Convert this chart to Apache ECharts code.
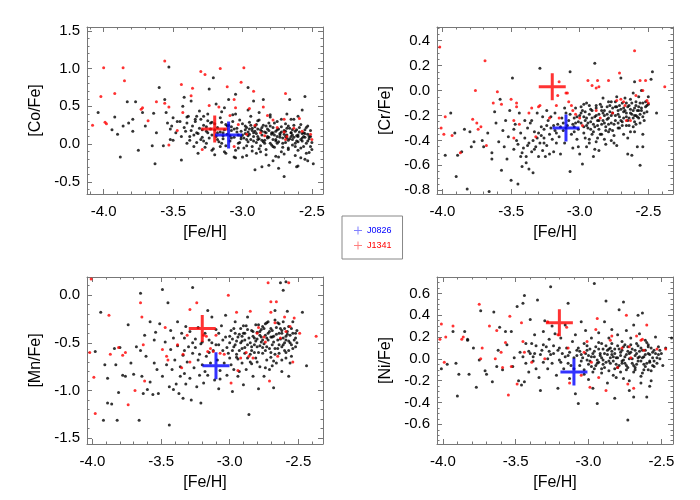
<!DOCTYPE html>
<html>
<head>
<meta charset="utf-8">
<script src="https://cdn.jsdelivr.net/npm/echarts@6/dist/echarts.min.js"></script>
<style>html,body{margin:0;padding:0;background:#fff}#c{width:700px;height:500px}</style>
</head>
<body>
<div id="c"></div>
<script>
// ---- data: [Fe/H], [X/Fe] ----
const coBlack = [[-4.04,0.42],[-3.92,0.36],[-3.90,0.13],[-3.88,-0.17],[-3.94,0.19],[-3.86,0.24],[-3.83,0.56],[-3.82,0.28],[-3.79,0.17],[-3.79,0.33],[-3.77,0.56],[-3.75,-0.08],[-3.72,0.42],[-3.70,0.24],[-3.65,-0.02],[-3.64,0.41],[-3.63,-0.26],[-3.62,0.15],[-3.60,0.75],[-3.57,-0.02],[-3.56,0.59],[-3.55,0.42],[-3.54,0.28],[-3.53,1.02],[-3.52,0.06],[-3.51,0.24],[-3.50,0.35],[-3.48,0.15],[-3.45,0.30],[-3.44,-0.21],[-3.43,0.50],[-3.42,0.62],[-3.41,0.17],[-3.40,0.01],[-3.39,0.37],[-3.38,0.10],[-3.37,0.57],[-3.36,0.24],[-3.35,-0.03],[-3.34,0.33],[-3.33,0.15],[-3.32,-0.12],[-3.31,0.44],[-3.30,0.06],[-3.29,0.19],[-3.28,0.37],[-3.26,0.01],[-3.25,0.15],[-3.24,0.73],[-3.23,0.28],[-3.22,-0.08],[-3.21,0.88],[-3.20,0.19],[-3.19,0.53],[-3.18,0.06],[-3.16,0.35],[-3.16,-0.03],[-3.14,0.15],[-3.13,0.48],[-3.12,-0.12],[-3.11,0.24],[-3.10,0.59],[-3.08,0.08],[-3.07,0.39],[-3.06,-0.17],[-3.05,0.66],[-3.04,0.16],[-3.03,0.01],[-3.02,0.32],[-3.01,0.10],[-3.00,-0.17],[-2.98,0.24],[-2.97,0.06],[-2.96,0.75],[-2.95,0.20],[-2.94,0.37],[-2.93,-0.03],[-2.92,0.15],[-2.92,0.57],[-2.91,-0.34],[-2.90,0.26],[-2.89,0.06],[-2.88,0.32],[-2.87,-0.10],[-2.86,0.17],[-2.85,0.59],[-2.84,0.01],[-2.83,0.24],[-2.82,0.10],[-2.81,-0.28],[-2.80,0.39],[-2.79,0.15],[-2.78,-0.03],[-2.77,0.28],[-2.76,0.06],[-2.75,0.19],[-2.74,-0.17],[-2.73,0.12],[-2.72,0.33],[-2.71,0.01],[-2.70,-0.43],[-2.69,0.17],[-2.68,0.08],[-2.67,0.24],[-2.67,-0.07],[-2.66,0.59],[-2.65,0.15],[-2.64,0.06],[-2.63,0.33],[-2.62,-0.03],[-2.61,0.19],[-2.60,0.10],[-2.60,-0.29],[-2.58,0.26],[-2.57,0.04],[-2.56,0.15],[-2.55,0.63],[-2.54,-0.12],[-2.53,0.24],[-2.52,0.10],[-2.51,-0.03],[-2.49,-0.26],
[-3.42,0.22],[-3.40,0.28],[-3.38,0.05],[-3.37,0.18],[-3.35,0.12],[-3.34,0.30],[-3.33,0.02],[-3.31,0.21],[-3.30,0.33],[-3.29,0.09],[-3.28,0.25],[-3.27,-0.04],[-3.26,0.17],[-3.25,0.31],[-3.24,0.08],[-3.23,0.20],[-3.22,0.12],[-3.21,-0.06],[-3.20,0.27],[-3.19,0.10],[-3.18,0.22],[-3.17,0.03],[-3.16,0.16],[-3.15,0.29],[-3.14,0.07],[-3.13,0.19],[-3.12,-0.02],[-3.11,0.13],[-3.10,0.25],[-3.09,0.04],[-3.08,0.18],[-3.07,0.30],[-3.06,0.09],[-3.05,-0.08],[-3.04,0.21],[-3.03,0.12],[-3.02,0.02],[-3.01,0.17],[-3.00,0.27],[-2.99,0.08],[-2.99,-0.05],[-2.98,0.14],[-2.97,0.22],[-2.96,0.03],[-2.96,0.11],[-2.95,0.29],[-2.94,0.06],[-2.93,0.18],[-2.93,-0.09],[-2.92,0.10],[-2.91,0.23],[-2.90,0.02],[-2.90,0.14],[-2.89,0.31],[-2.88,0.07],[-2.87,0.19],[-2.87,-0.02],[-2.86,0.12],[-2.85,0.25],[-2.84,0.05],[-2.84,0.16],[-2.83,-0.07],[-2.82,0.20],[-2.81,0.09],[-2.81,0.28],[-2.80,0.01],[-2.79,0.13],[-2.78,0.22],[-2.78,0.06],[-2.77,-0.04],[-2.76,0.17],[-2.75,0.10],[-2.75,0.30],[-2.74,0.03],[-2.73,0.14],[-2.72,0.23],[-2.72,-0.10],[-2.71,0.08],[-2.70,0.18],[-2.69,0.02],[-2.69,0.27],[-2.68,0.12],[-2.67,-0.05],[-2.66,0.21],[-2.66,0.07],[-2.65,0.15],[-2.64,-0.01],[-2.63,0.25],[-2.63,0.09],[-2.62,0.17],[-2.61,0.04],[-2.60,-0.08],[-2.60,0.12],[-2.59,0.22],[-2.58,0.06],[-2.57,0.14],[-2.56,-0.03],[-2.55,0.19],[-2.55,0.09],[-2.54,0.01],[-2.53,0.13],[-2.52,-0.11],[-2.52,0.07],[-2.51,0.18],[-2.50,0.02],[-2.58,-0.18],[-2.62,-0.15],[-2.55,-0.20],[-2.70,-0.13],[-2.76,-0.16],[-2.83,-0.14],[-2.90,-0.12],[-2.97,-0.15],[-3.05,-0.18],[-3.13,-0.10],[-3.20,-0.14],[-2.65,0.33],[-2.60,0.37],[-2.57,0.45],[-2.68,0.40],[-2.80,0.36],[-2.88,0.42],[-2.96,0.45],[-3.05,0.40],[-3.15,0.43],[-3.25,0.40],[-3.33,0.37],[-3.40,0.36],[-3.47,0.30],[-3.44,0.10],[-3.50,0.05],[-3.52,0.20],[-2.53,-0.22],[-2.61,-0.30],[-2.74,-0.32],[-2.86,-0.30],[-2.78,-0.22],[-2.66,-0.24],
[-3.32,0.14],[-3.28,0.04],[-3.26,0.23],[-3.22,0.29],[-3.18,0.15],[-3.15,0.01],[-3.12,0.26],[-3.09,0.11],[-3.06,0.20],[-3.03,-0.05],[-3.01,0.07],[-2.98,0.19],[-2.97,-0.02],[-2.95,0.13],[-2.94,0.25],[-2.92,0.04],[-2.91,0.17],[-2.89,0.10],[-2.88,-0.06],[-2.86,0.22],[-2.85,0.03],[-2.83,0.15],[-2.82,0.08],[-2.80,0.24],[-2.79,-0.01],[-2.77,0.12],[-2.76,0.04],[-2.74,0.20],[-2.73,0.09],[-2.71,-0.04],[-2.70,0.13],[-2.68,0.21],[-2.67,0.05],[-2.65,0.10],[-2.64,0.19],[-2.62,0.01],[-2.61,0.11],[-2.59,0.16],[-2.58,-0.05],[-2.57,0.08],[-2.55,0.14],[-2.54,0.22],[-2.53,0.04],[-2.51,0.10],[-2.50,-0.07],[-2.86,0.05],[-2.78,0.15],[-2.72,0.16],[-2.64,0.12],[-2.93,0.21],[-3.00,0.12],[-3.08,0.23],[-3.14,0.11],[-2.69,0.10],[-2.75,0.01],[-2.81,0.18],[-2.89,0.20],[-2.96,0.16],[-2.60,0.03],[-2.56,0.10]];
const coRed = [[-4.08,0.25],[-4.00,1.01],[-4.02,0.63],[-3.99,0.29],[-3.98,0.27],[-3.92,0.67],[-3.86,1.01],[-3.85,0.84],[-3.73,0.46],[-3.72,0.48],[-3.68,0.31],[-3.62,0.56],[-3.56,1.10],[-3.53,0.49],[-3.53,-0.01],[-3.56,0.54],[-3.47,0.18],[-3.44,0.79],[-3.43,0.42],[-3.36,0.74],[-3.37,0.64],[-3.30,0.96],[-3.27,0.92],[-3.29,-0.07],[-3.24,0.51],[-3.16,1.00],[-3.17,0.49],[-3.11,0.76],[-3.09,0.38],[-3.06,-0.03],[-3.05,0.48],[-3.06,0.59],[-3.01,0.82],[-2.99,1.01],[-3.03,0.26],[-2.92,0.70],[-2.95,0.47],[-2.91,0.25],[-2.85,0.49],[-2.87,0.15],[-2.82,0.38],[-2.78,0.32],[-2.75,0.22],[-2.70,0.33],[-2.69,0.67],[-2.70,0.16],[-2.68,0.10],[-2.63,0.21],[-2.59,0.34],[-2.57,0.17],[-2.51,0.13],[-2.50,0.06],[-2.69,0.06],[-2.84,0.11],[-2.97,0.13]];

const crBlack = [[-3.98,-0.52],[-3.94,-0.18],[-3.91,-0.34],[-3.90,-0.69],[-3.89,-0.52],[-3.86,-0.49],[-3.84,-0.31],[-3.82,-0.79],[-3.80,-0.33],[-3.79,-0.45],[-3.77,-0.41],[-3.71,-0.40],[-3.70,-0.45],[-3.67,-0.34],[-3.66,-0.81],[-3.64,-0.50],[-3.64,-0.55],[-3.62,-0.17],[-3.61,-0.26],[-3.59,-0.41],[-3.58,-0.07],[-3.57,-0.64],[-3.56,-0.32],[-3.55,-0.45],[-3.54,-0.24],[-3.53,-0.55],[-3.52,-0.37],[-3.51,-0.16],[-3.50,-0.72],[-3.49,0.10],[-3.48,-0.31],[-3.48,-0.47],[-3.47,-0.27],[-3.46,-0.40],[-3.45,-0.75],[-3.44,-0.18],[-3.43,-0.53],[-3.43,-0.34],[-3.42,-0.61],[-3.41,-0.46],[-3.40,-0.24],[-3.40,-0.38],[-3.39,-0.53],[-3.38,-0.30],[-3.37,-0.42],[-3.37,-0.63],[-3.35,-0.24],[-3.35,-0.49],[-3.34,-0.40],[-3.34,-0.66],[-3.33,-0.33],[-3.32,-0.45],[-3.31,-0.18],[-3.30,-0.53],[-3.30,-0.34],[-3.29,-0.42],[-3.29,0.18],[-3.28,-0.29],[-3.27,-0.48],[-3.27,-0.21],[-3.26,-0.38],[-3.26,-0.31],[-3.25,-0.53],[-3.24,-0.16],[-3.24,-0.44],[-3.23,-0.24],[-3.22,-0.35],[-3.22,-0.51],[-3.21,-0.30],[-3.21,-0.21],[-3.20,-0.39],[-3.19,-0.49],[-3.18,-0.32],[-3.18,-0.18],[-3.17,-0.42],[-3.16,-0.27],[-3.15,-0.37],[-3.14,-0.51],[-3.13,-0.22],[-3.12,-0.32],[-3.11,-0.42],[-3.10,-0.18],[-3.09,-0.28],[-3.07,-0.65],[-3.07,0.15],[-3.06,-0.35],[-3.05,-0.46],[-3.04,-0.22],[-3.04,-0.29],[-3.03,-0.14],[-3.02,-0.39],[-3.01,-0.31],[-3.00,-0.20],[-3.00,-0.51],[-2.99,-0.26],[-2.98,-0.59],[-2.98,-0.16],[-2.97,-0.34],[-2.96,-0.24],[-2.95,-0.45],[-2.95,-0.10],[-2.94,-0.30],[-2.93,-0.19],[-2.93,-0.39],[-2.92,-0.25],[-2.91,-0.16],[-2.90,-0.53],[-2.90,-0.33],[-2.89,-0.21],[-2.89,0.22],[-2.88,-0.41],[-2.88,-0.12],[-2.87,-0.28],[-2.86,-0.19],[-2.86,-0.48],[-2.85,-0.35],[-2.84,-0.16],[-2.83,-0.24],[-2.83,-0.06],[-2.82,-0.39],[-2.82,-0.20],[-2.81,-0.29],[-2.80,-0.13],[-2.79,-0.22],[-2.79,-0.33],[-2.78,-0.17],[-2.77,-0.09],[-2.77,-0.26],[-2.76,-0.18],[-2.75,-0.42],[-2.74,-0.13],[-2.74,-0.24],[-2.73,-0.05],[-2.72,-0.30],[-2.72,-0.16],[-2.71,-0.21],[-2.70,0.10],[-2.69,-0.10],[-2.69,-0.25],[-2.68,-0.35],[-2.68,-0.17],[-2.67,-0.06],[-2.66,-0.21],[-2.65,-0.51],[-2.65,-0.13],[-2.64,-0.28],[-2.63,-0.07],[-2.63,-0.18],[-2.62,-0.52],[-2.61,-0.02],[-2.61,-0.22],[-2.60,-0.14],[-2.60,-0.33],[-2.59,-0.09],[-2.59,-0.20],[-2.58,-0.45],[-2.57,-0.05],[-2.57,-0.16],[-2.56,-0.60],[-2.56,-0.10],[-2.55,0.00],[-2.54,-0.21],[-2.54,-0.35],[-2.52,-0.09],[-2.52,-0.13],[-2.50,-0.05],[-2.48,0.09],[-2.47,0.15],[-2.44,-0.18],[-2.60,0.07],
[-3.05,-0.27],[-3.02,-0.21],[-2.99,-0.18],[-2.97,-0.29],[-2.95,-0.22],[-2.92,-0.15],[-2.90,-0.27],[-2.88,-0.20],[-2.86,-0.31],[-2.84,-0.13],[-2.82,-0.26],[-2.80,-0.19],[-2.78,-0.31],[-2.76,-0.14],[-2.74,-0.20],[-2.72,-0.26],[-2.70,-0.15],[-2.68,-0.22],[-2.66,-0.28],[-2.64,-0.12],[-2.62,-0.19],[-2.60,-0.25],[-2.58,-0.16],[-2.57,-0.22],[-2.55,-0.14],[-2.53,-0.18],[-2.51,-0.12],[-2.87,-0.38],[-2.81,-0.43],[-2.75,-0.36],[-2.93,-0.42],[-3.08,-0.24],[-3.11,-0.14],[-3.14,-0.29],[-2.97,-0.11],[-2.79,-0.09],[-2.71,-0.30],[-2.63,-0.33],[-2.59,-0.12],[-2.66,-0.10],[-2.84,-0.27],[-2.91,-0.35],[-3.01,-0.45],[-3.17,-0.34],[-3.24,-0.28],[-3.33,-0.47],[-3.28,-0.36],[-3.36,-0.26],[-3.42,-0.50],[-3.39,-0.58],[-2.96,-0.38],[-2.89,-0.47],[-2.77,-0.40],[-2.73,-0.44],[-2.65,-0.38],[-2.61,-0.29],[-2.56,-0.26],[-2.54,-0.45],
[-3.10,-0.30],[-3.07,-0.19],[-3.04,-0.33],[-3.01,-0.25],[-2.99,-0.13],[-2.97,-0.21],[-2.95,-0.28],[-2.93,-0.12],[-2.91,-0.22],[-2.89,-0.29],[-2.88,-0.14],[-2.86,-0.24],[-2.85,-0.11],[-2.83,-0.18],[-2.81,-0.32],[-2.80,-0.23],[-2.78,-0.12],[-2.77,-0.20],[-2.75,-0.27],[-2.74,-0.09],[-2.72,-0.19],[-2.71,-0.12],[-2.69,-0.28],[-2.68,-0.14],[-2.66,-0.18],[-2.65,-0.24],[-2.63,-0.15],[-2.62,-0.10],[-2.60,-0.20],[-2.59,-0.27],[-2.57,-0.13],[-2.56,-0.19],[-2.54,-0.10],[-2.53,-0.24],[-2.51,-0.17],[-2.50,-0.11],[-2.92,-0.31],[-2.84,-0.35],[-2.76,-0.32],[-2.70,-0.24],[-2.64,-0.22],[-2.58,-0.21],[-2.82,-0.16],[-2.87,-0.24],[-2.96,-0.17],[-3.03,-0.26],[-2.73,-0.13],[-2.67,-0.16],[-2.61,-0.16],[-2.55,-0.16],[-2.79,-0.27],[-2.94,-0.26],[-3.12,-0.26],[-3.19,-0.28],[-3.26,-0.42],[-3.31,-0.38],[-3.38,-0.44],[-3.45,-0.43]];
const crRed = [[-4.02,0.35],[-4.01,-0.30],[-3.98,-0.21],[-3.99,-0.35],[-3.93,-0.36],[-3.87,-0.50],[-3.78,-0.23],[-3.76,0.00],[-3.75,-0.26],[-3.74,-0.31],[-3.72,-0.29],[-3.69,0.24],[-3.68,-0.44],[-3.63,-0.10],[-3.60,-0.01],[-3.57,-0.11],[-3.50,-0.07],[-3.48,-0.24],[-3.46,-0.10],[-3.46,-0.13],[-3.48,-0.38],[-3.44,-0.27],[-3.37,-0.18],[-3.35,-0.14],[-3.32,-0.37],[-3.30,-0.13],[-3.29,-0.12],[-3.22,-0.22],[-3.17,-0.12],[-3.15,-0.22],[-3.15,0.07],[-3.16,-0.04],[-3.10,-0.02],[-3.09,-0.02],[-3.08,-0.09],[-3.06,-0.12],[-3.05,-0.16],[-3.03,-0.19],[-3.00,-0.22],[-2.98,-0.28],[-2.94,0.08],[-2.91,0.04],[-2.88,0.02],[-2.87,0.08],[-2.86,0.03],[-2.88,-0.16],[-2.85,-0.22],[-2.79,0.08],[-2.76,-0.18],[-2.73,-0.08],[-2.71,0.14],[-2.70,-0.07],[-2.68,-0.09],[-2.67,-0.12],[-2.63,-0.24],[-2.60,0.32],[-2.59,-0.04],[-2.56,0.08],[-2.52,0.08],[-2.54,0.00],[-2.51,-0.08],[-2.50,-0.10],[-2.38,0.03],[-2.66,-0.24]];

const mnBlack = [[-3.98,-0.59],[-3.94,-0.18],[-3.92,-1.31],[-3.91,-0.73],[-3.89,-1.13],[-3.89,-0.87],[-3.86,-1.14],[-3.84,-0.56],[-3.83,-0.73],[-3.82,-1.31],[-3.81,-1.02],[-3.80,-0.55],[-3.78,-0.84],[-3.76,-0.85],[-3.74,-0.31],[-3.72,-0.71],[-3.70,-0.83],[-3.68,-0.54],[-3.66,-1.31],[-3.65,0.02],[-3.65,-0.58],[-3.64,-0.85],[-3.63,-1.03],[-3.62,-0.42],[-3.61,-0.64],[-3.60,-0.99],[-3.58,-0.91],[-3.58,-0.28],[-3.56,-1.04],[-3.55,-0.47],[-3.55,-0.71],[-3.54,-0.39],[-3.53,-0.78],[-3.52,-1.03],[-3.51,-0.30],[-3.49,0.06],[-3.49,-0.85],[-3.47,-0.49],[-3.46,-0.73],[-3.45,-0.08],[-3.44,-1.36],[-3.44,-0.96],[-3.43,-0.37],[-3.43,-0.57],[-3.42,-0.78],[-3.41,-0.99],[-3.41,-0.45],[-3.40,-0.68],[-3.39,-0.93],[-3.38,-0.28],[-3.38,-0.53],[-3.37,-1.03],[-3.36,-0.75],[-3.36,-0.85],[-3.35,-0.40],[-3.34,-1.08],[-3.34,-0.63],[-3.33,-0.45],[-3.33,-0.82],[-3.32,-0.93],[-3.32,-0.33],[-3.31,-0.70],[-3.30,-0.54],[-3.29,-0.87],[-3.29,-0.38],[-3.28,-1.10],[-3.27,0.08],[-3.27,-0.61],[-3.26,-0.76],[-3.25,-0.46],[-3.24,-0.96],[-3.23,-0.34],[-3.23,-0.68],[-3.22,-0.84],[-3.21,-1.13],[-3.21,-0.51],[-3.20,-0.73],[-3.19,-0.92],[-3.18,-0.40],[-3.17,-0.64],[-3.16,-0.84],[-3.16,-0.16],[-3.15,-0.47],[-3.14,-0.71],[-3.13,-0.23],[-3.12,-0.58],[-3.11,-0.89],[-3.10,-0.36],[-3.09,-0.68],[-3.08,-0.98],[-3.08,-0.52],[-3.07,-0.79],[-3.06,-0.32],[-3.05,-0.58],[-3.04,-0.71],[-3.03,-0.44],[-3.03,-0.21],[-3.02,-0.84],[-3.01,-0.61],[-3.00,-0.50],[-2.99,-0.73],[-2.99,-0.37],[-2.98,-1.01],[-2.97,-0.54],[-2.97,-0.78],[-2.96,-0.28],[-2.95,-0.65],[-2.94,-0.44],[-2.94,-0.85],[-2.93,-0.58],[-2.92,-0.35],[-2.91,-0.71],[-2.91,-0.48],[-2.90,-0.94],[-2.89,-0.40],[-2.89,-0.61],[-2.88,-0.78],[-2.87,-0.23],[-2.87,-0.52],[-2.86,-1.25],[-2.85,-0.70],[-2.84,-0.37],[-2.84,-0.58],[-2.83,-0.85],[-2.82,-0.45],[-2.81,-0.31],[-2.81,-0.66],[-2.80,-0.54],[-2.79,-0.98],[-2.78,-0.38],[-2.78,-0.75],[-2.77,-0.49],[-2.76,-0.33],[-2.76,-0.61],[-2.75,-0.85],[-2.74,-0.42],[-2.73,-0.68],[-2.73,-0.54],[-2.72,-0.28],[-2.71,-0.78],[-2.70,-0.44],[-2.70,-0.65],[-2.69,-0.37],[-2.68,-0.97],[-2.67,-0.56],[-2.67,-0.16],[-2.66,-0.71],[-2.65,-0.47],[-2.64,-0.30],[-2.64,-0.61],[-2.63,0.13],[-2.62,-0.40],[-2.62,-0.80],[-2.61,-0.52],[-2.61,0.05],[-2.60,-0.35],[-2.59,-0.66],[-2.59,-0.47],[-2.58,-0.17],[-2.57,-0.85],[-2.57,-0.58],[-2.56,-0.42],[-2.55,-0.64],[-2.54,-0.28],[-2.53,-0.47],[-2.52,-0.54],[-2.51,-0.37],[-2.47,-0.18],[-2.44,-0.74],[-2.59,0.14],
[-2.98,-0.46],[-2.96,-0.52],[-2.93,-0.41],[-2.91,-0.56],[-2.89,-0.47],[-2.87,-0.36],[-2.85,-0.50],[-2.83,-0.43],[-2.82,-0.60],[-2.80,-0.39],[-2.78,-0.53],[-2.77,-0.44],[-2.75,-0.35],[-2.74,-0.58],[-2.72,-0.47],[-2.71,-0.38],[-2.69,-0.52],[-2.68,-0.43],[-2.66,-0.34],[-2.65,-0.56],[-2.63,-0.46],[-2.62,-0.37],[-2.60,-0.50],[-2.58,-0.41],[-2.57,-0.33],[-2.55,-0.52],[-2.54,-0.40],[-2.52,-0.45],[-2.79,-0.31],[-2.73,-0.29],[-2.81,-0.48],[-2.76,-0.55],[-2.70,-0.60],[-2.64,-0.40],[-2.61,-0.28],[-2.67,-0.26],[-2.90,-0.32],[-2.95,-0.62],[-3.00,-0.66],[-3.05,-0.47],[-3.10,-0.52],[-3.15,-0.60],[-3.20,-0.49],[-3.25,-0.55],[-3.18,-0.80],[-3.07,-0.88],[-2.93,-0.80],[-2.84,-0.72],[-2.74,-0.76],[-2.68,-0.69],[-2.59,-0.60],[-2.56,-0.71],
[-3.00,-0.43],[-2.98,-0.58],[-2.97,-0.35],[-2.95,-0.48],[-2.94,-0.67],[-2.92,-0.50],[-2.90,-0.40],[-2.89,-0.55],[-2.88,-0.32],[-2.86,-0.45],[-2.85,-0.62],[-2.83,-0.38],[-2.82,-0.52],[-2.80,-0.46],[-2.79,-0.60],[-2.77,-0.36],[-2.76,-0.47],[-2.74,-0.30],[-2.73,-0.45],[-2.71,-0.56],[-2.70,-0.35],[-2.69,-0.44],[-2.67,-0.62],[-2.66,-0.41],[-2.64,-0.52],[-2.63,-0.35],[-2.61,-0.45],[-2.60,-0.58],[-2.58,-0.38],[-2.57,-0.48],[-2.55,-0.35],[-2.54,-0.56],[-2.52,-0.40],[-2.51,-0.50],[-2.78,-0.42],[-2.72,-0.40],[-2.65,-0.29],[-2.62,-0.54],[-2.84,-0.54],[-2.91,-0.43],[-2.96,-0.40],[-3.02,-0.55],[-3.08,-0.40],[-3.13,-0.50],[-3.22,-0.62],[-3.27,-0.50],[-3.33,-0.58],[-2.87,-0.66],[-2.80,-0.70],[-2.69,-0.74],[-2.62,-0.68],[-2.56,-0.50],[-2.75,-0.51],[-2.68,-0.49],[-2.59,-0.43]];
const mnRed = [[-4.01,0.17],[-4.02,-0.60],[-3.99,-0.86],[-3.98,-1.24],[-3.88,-0.21],[-3.87,-0.62],[-3.81,-0.55],[-3.78,-0.63],[-3.76,-0.60],[-3.74,-1.15],[-3.69,-1.00],[-3.65,-0.08],[-3.64,-0.23],[-3.62,-0.90],[-3.63,-0.52],[-3.49,-0.57],[-3.47,-0.34],[-3.46,-0.64],[-3.45,-0.68],[-3.38,-0.52],[-3.35,-0.76],[-3.34,-0.62],[-3.31,-0.42],[-3.29,-0.15],[-3.29,-0.70],[-3.24,-0.08],[-3.19,-0.42],[-3.17,-0.43],[-3.16,-0.59],[-3.14,-0.56],[-3.12,-0.59],[-3.10,-0.42],[-3.07,-0.61],[-3.04,-0.62],[-3.01,0.00],[-2.99,-0.92],[-2.95,-0.18],[-2.94,-0.79],[-2.92,-0.66],[-2.88,-0.60],[-2.86,-0.64],[-2.85,-0.17],[-2.83,-0.66],[-2.80,-0.40],[-2.79,-0.34],[-2.75,-0.44],[-2.74,-0.49],[-2.72,0.13],[-2.71,-0.90],[-2.70,-0.18],[-2.70,-0.07],[-2.67,-0.29],[-2.66,-0.07],[-2.65,-0.64],[-2.63,-0.45],[-2.60,-0.23],[-2.59,-0.38],[-2.57,0.13],[-2.56,-0.33],[-2.53,-0.24],[-2.54,-0.70],[-2.49,-0.40],[-2.37,-0.43]];

const niBlack = [[-4.01,-0.09],[-3.97,-0.05],[-3.93,0.25],[-3.91,-0.04],[-3.90,-0.34],[-3.89,-0.14],[-3.85,0.25],[-3.83,0.18],[-3.83,0.17],[-3.82,-0.14],[-3.79,0.10],[-3.77,-0.26],[-3.75,-0.01],[-3.74,0.44],[-3.71,-0.11],[-3.70,-0.14],[-3.66,-0.21],[-3.65,0.43],[-3.63,-0.07],[-3.62,0.08],[-3.61,0.29],[-3.59,-0.10],[-3.57,0.25],[-3.56,0.13],[-3.53,0.25],[-3.52,-0.07],[-3.51,0.01],[-3.49,0.48],[-3.48,-0.20],[-3.47,0.06],[-3.46,-0.24],[-3.45,0.51],[-3.44,0.58],[-3.44,-0.21],[-3.43,0.14],[-3.43,-0.04],[-3.41,0.07],[-3.41,-0.12],[-3.40,0.36],[-3.39,0.14],[-3.38,0.02],[-3.37,0.22],[-3.37,0.05],[-3.36,-0.09],[-3.35,0.54],[-3.34,-0.17],[-3.33,-0.29],[-3.32,0.08],[-3.31,0.25],[-3.31,-0.03],[-3.30,0.35],[-3.29,0.11],[-3.28,-0.09],[-3.27,0.18],[-3.26,0.04],[-3.26,0.66],[-3.25,0.30],[-3.25,-0.04],[-3.24,0.12],[-3.23,0.23],[-3.22,-0.15],[-3.21,0.08],[-3.21,-0.27],[-3.20,-0.01],[-3.19,0.19],[-3.18,0.05],[-3.17,-0.09],[-3.16,0.31],[-3.15,0.10],[-3.14,0.51],[-3.14,-0.04],[-3.13,-0.18],[-3.13,0.06],[-3.11,0.16],[-3.10,0.01],[-3.09,0.22],[-3.09,-0.32],[-3.08,0.08],[-3.07,-0.41],[-3.06,-0.06],[-3.05,0.34],[-3.05,0.04],[-3.03,0.14],[-3.03,-0.10],[-3.02,0.26],[-3.01,-0.01],[-3.00,-0.19],[-2.99,0.09],[-2.98,-0.07],[-2.98,0.19],[-2.97,-0.27],[-2.96,0.02],[-2.96,0.69],[-2.95,0.11],[-2.94,-0.04],[-2.94,-0.41],[-2.93,0.24],[-2.92,0.05],[-2.91,-0.13],[-2.91,0.14],[-2.90,-0.01],[-2.89,0.34],[-2.89,-0.08],[-2.88,0.53],[-2.87,0.08],[-2.87,-0.22],[-2.86,0.19],[-2.85,-0.04],[-2.84,0.04],[-2.84,0.27],[-2.83,-0.15],[-2.82,0.09],[-2.82,-0.36],[-2.81,0.01],[-2.80,0.22],[-2.80,-0.08],[-2.79,0.45],[-2.78,0.06],[-2.77,-0.04],[-2.77,0.16],[-2.76,0.52],[-2.76,-0.18],[-2.75,0.02],[-2.74,0.26],[-2.74,-0.06],[-2.73,0.11],[-2.73,-0.56],[-2.72,-0.29],[-2.72,0.05],[-2.71,0.19],[-2.70,-0.04],[-2.69,0.31],[-2.69,-0.35],[-2.68,0.08],[-2.68,-0.10],[-2.67,0.14],[-2.66,0.40],[-2.66,0.01],[-2.65,0.23],[-2.64,-0.16],[-2.63,0.08],[-2.63,0.42],[-2.62,-0.05],[-2.61,0.17],[-2.61,0.04],[-2.60,-0.35],[-2.59,-0.10],[-2.59,0.11],[-2.58,-0.02],[-2.57,-0.20],[-2.56,0.06],[-2.55,-0.07],[-2.54,0.20],[-2.53,0.01],[-2.51,0.08],[-2.49,-0.06],[-2.47,0.10],[-2.43,0.19],
[-3.08,0.03],[-3.05,-0.02],[-3.02,0.05],[-3.00,-0.05],[-2.98,0.02],[-2.96,0.07],[-2.94,-0.01],[-2.92,0.03],[-2.90,0.09],[-2.88,-0.03],[-2.87,0.04],[-2.85,0.10],[-2.83,-0.02],[-2.82,0.05],[-2.80,0.01],[-2.79,-0.06],[-2.77,0.08],[-2.76,-0.01],[-2.74,0.04],[-2.73,-0.08],[-2.71,0.06],[-2.70,0.00],[-2.68,0.03],[-2.67,-0.05],[-2.65,0.07],[-2.64,-0.02],[-2.62,0.02],[-2.61,-0.07],[-2.59,0.05],[-2.58,-0.03],[-2.56,0.01],[-2.55,0.08],[-2.53,-0.04],[-2.52,0.04],[-3.12,-0.06],[-3.16,0.02],[-3.20,0.10],[-3.24,0.05],[-3.28,0.00],[-3.33,0.04],[-3.36,0.12],[-3.40,0.05],[-3.45,0.02],[-2.91,-0.09],[-2.86,-0.11],[-2.78,-0.12],[-2.69,-0.12],[-2.63,-0.13],[-2.57,-0.11],[-2.97,-0.12],[-3.03,-0.14],[-3.10,-0.09],[-2.84,0.14],[-2.75,0.13],[-2.66,0.12],[-2.60,0.15],[-2.93,0.15],[-3.01,0.12],[-2.81,-0.17],[-2.72,-0.20],[-2.64,-0.22],[-2.58,-0.25],
[-3.07,0.10],[-3.04,0.01],[-3.01,0.08],[-2.99,-0.02],[-2.97,0.05],[-2.95,-0.06],[-2.93,0.09],[-2.91,0.01],[-2.89,0.05],[-2.88,0.12],[-2.86,-0.02],[-2.84,0.07],[-2.83,0.02],[-2.81,-0.05],[-2.79,0.09],[-2.78,0.03],[-2.76,0.11],[-2.75,-0.04],[-2.73,0.07],[-2.72,0.00],[-2.70,0.09],[-2.69,-0.06],[-2.67,0.05],[-2.66,-0.02],[-2.64,0.10],[-2.63,0.01],[-2.61,0.08],[-2.60,-0.04],[-2.58,0.04],[-2.57,0.10],[-2.55,-0.02],[-2.54,0.05],[-2.52,0.11],[-2.51,0.00],[-2.50,0.05],[-2.96,-0.09],[-2.90,-0.05],[-2.82,-0.09],[-2.74,-0.10],[-2.68,-0.08],[-2.62,-0.10],[-2.56,-0.06],[-2.86,0.09],[-2.80,0.12],[-2.71,0.13],[-2.65,0.02],[-2.59,0.13],[-3.00,0.03],[-3.06,0.07],[-3.14,0.03],[-3.19,-0.03],[-3.27,0.07],[-3.31,0.13],[-3.38,-0.02],[-2.93,-0.03],[-2.77,-0.02],[-2.85,0.01]];
const niRed = [[-4.02,0.18],[-4.01,0.32],[-3.99,-0.03],[-3.98,0.20],[-3.93,0.30],[-3.87,0.18],[-3.86,0.20],[-3.75,0.50],[-3.74,0.00],[-3.73,0.10],[-3.68,0.30],[-3.64,0.00],[-3.63,0.26],[-3.60,0.06],[-3.59,-0.08],[-3.57,0.15],[-3.54,0.39],[-3.55,-0.33],[-3.53,-0.07],[-3.49,-0.23],[-3.46,0.33],[-3.45,0.16],[-3.44,0.06],[-3.39,-0.03],[-3.30,0.00],[-3.28,0.34],[-3.21,0.22],[-3.15,0.29],[-3.14,0.10],[-3.13,-0.22],[-3.05,-0.15],[-3.03,0.06],[-3.01,0.16],[-2.99,-0.26],[-2.98,-0.03],[-2.95,0.27],[-2.94,0.37],[-2.93,-0.17],[-2.88,-0.29],[-2.85,0.17],[-2.84,0.21],[-2.80,-0.08],[-2.77,0.10],[-2.74,0.40],[-2.73,-0.23],[-2.72,0.11],[-2.71,0.01],[-2.69,-0.27],[-2.67,0.21],[-2.64,0.17],[-2.63,0.18],[-2.62,0.08],[-2.60,0.31],[-2.53,0.09],[-2.47,0.09]];

// program stars: [Fe/H] and [Co/Fe], [Cr/Fe], [Mn/Fe], [Ni/Fe]
const starNames = ['J0826', 'J1341'];
const starFeH = [-3.1, -3.2];
const j0826Ab = [0.12, -0.30, -0.74, -0.12];
const j1341Ab = [0.20, 0.03, -0.35, 0.33];
const panelNames = ['[Co/Fe]', '[Cr/Fe]', '[Mn/Fe]', '[Ni/Fe]'];

// ---- layout ----
const FONT = 'Liberation Sans, Arial, Helvetica, sans-serif';
const FRAME = '#777';
const PLUS = 'path://M0,12h27v3h-27z M12,0h3v27h-3z';
const panels = [
  {black: coBlack, red: coRed, left: 87, top: 27, x: [-4.12, -2.42], y: [-0.66, 1.55], ys: 4, ym: 5},
  {black: crBlack, red: crRed, left: 437, top: 27, x: [-4.04, -2.32], y: [-0.83, 0.51], ys: 7, ym: 4},
  {black: mnBlack, red: mnRed, left: 87, top: 277, x: [-4.04, -2.32], y: [-1.56, 0.19], ys: 4, ym: 5},
  {black: niBlack, red: niRed, left: 437, top: 277, x: [-4.04, -2.42], y: [-0.78, 0.75], ys: 7, ym: 4}
];

const grid = [], xAxis = [], yAxis = [], series = [];
function baseAxis(gi, rng, split, minor, pos, show) {
  return {
    type: 'value', gridIndex: gi, position: pos, min: rng[0], max: rng[1], splitNumber: split,
    scale: true,
    axisLine: {show: true, onZero: false, lineStyle: {color: FRAME, width: 1}},
    axisTick: {show: true, inside: true, length: 5, lineStyle: {color: FRAME}},
    minorTick: {show: true, splitNumber: minor, length: 2.5, lineStyle: {color: FRAME}},
    splitLine: {show: false},
    axisLabel: {show: show, showMinLabel: false, showMaxLabel: false, color: '#000', fontFamily: FONT, fontSize: 15,
      margin: 10, formatter: v => v.toFixed(1)}
  };
}
panels.forEach((p, i) => {
  grid.push({left: p.left, top: p.top, width: 236, height: 167, containLabel: false});
  const xb = baseAxis(i, p.x, 3, 5, 'bottom', true);
  xb.name = '[Fe/H]'; xb.nameLocation = 'middle'; xb.nameGap = 31;
  xb.nameTextStyle = {color: '#000', fontFamily: FONT, fontSize: 16};
  xAxis.push(xb);
  const yb = baseAxis(i, p.y, p.ys, p.ym, 'left', true);
  yb.axisLabel.margin = 7;
  yb.name = panelNames[i]; yb.nameLocation = 'middle'; yb.nameGap = 43;
  yb.nameTextStyle = {color: '#000', fontFamily: FONT, fontSize: 16};
  yAxis.push(yb);
});
panels.forEach((p, i) => {
  xAxis.push(baseAxis(i, p.x, 3, 5, 'top', false));
  yAxis.push(baseAxis(i, p.y, p.ys, p.ym, 'right', false));
});
panels.forEach((p, i) => {
  series.push({type: 'scatter', xAxisIndex: i, yAxisIndex: i, data: p.black, symbol: 'circle', symbolSize: 3,
    itemStyle: {color: '#000'}, silent: true, z: 2});
  series.push({type: 'scatter', xAxisIndex: i, yAxisIndex: i, data: p.red, symbol: 'circle', symbolSize: 3,
    itemStyle: {color: '#ff0000'}, silent: true, z: 3});
  series.push({type: 'scatter', name: starNames[1], xAxisIndex: i, yAxisIndex: i, data: [[starFeH[1], j1341Ab[i]]],
    symbol: PLUS, symbolSize: [27, 27], itemStyle: {color: '#ff0000'}, silent: true, z: 4});
  series.push({type: 'scatter', name: starNames[0], xAxisIndex: i, yAxisIndex: i, data: [[starFeH[0], j0826Ab[i]]],
    symbol: PLUS, symbolSize: [27, 27], itemStyle: {color: '#0000ff'}, silent: true, z: 5});
});

const LEG_ICON = 'path://M0,3.5h8v1h-8z M3.5,0h1v8h-1z';
const chart = echarts.init(document.getElementById('c'), null, {renderer: 'canvas'});
chart.setOption({
  animation: false,
  backgroundColor: '#fff',
  grid, xAxis, yAxis, series,
  legend: {
    orient: 'vertical', left: 342, top: 216,
    padding: [10, 11, 9, 12], itemWidth: 8, itemHeight: 8, itemGap: 6,
    borderColor: '#888', borderWidth: 1, borderRadius: 0,
    selectedMode: false,
    textStyle: {fontFamily: FONT, fontSize: 9},
    data: [
      {name: 'J0826', icon: LEG_ICON, itemStyle: {color: '#6060ff'}, textStyle: {color: '#0000ff'}},
      {name: 'J1341', icon: LEG_ICON, itemStyle: {color: '#ff6060'}, textStyle: {color: '#ff0000'}}
    ]
  }
});
</script>
</body>
</html>
